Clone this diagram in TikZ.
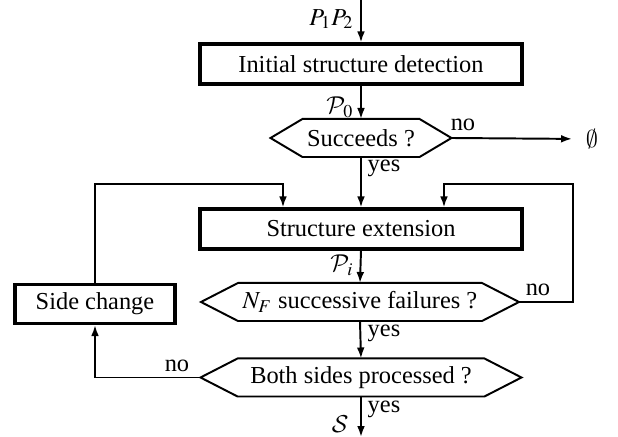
\documentclass[tikz,border=0pt]{standalone}
\usepackage{mathptmx}
\DeclareMathAlphabet{\mathcal}{OMS}{cmsy}{m}{n}
\DeclareSymbolFont{cmsyfont}{OMS}{cmsy}{m}{n}
\DeclareMathSymbol{\cmempty}{\mathord}{cmsyfont}{"3B}
\usepackage{fontspec}
\setmainfont{Liberation Serif}
\usetikzlibrary{calc,arrows.meta}
\begin{document}
\begin{tikzpicture}[x=0.41pt,y=-0.41pt,
  box/.style={draw,line width=1.3pt,minimum width=132pt,minimum height=16.4pt,inner sep=0pt,font=\fontsize{10}{12}\selectfont},
  hexn/.style={inner sep=0pt,minimum height=15.2pt,font=\fontsize{10}{12}\selectfont},
  hexline/.style={line width=0.8pt,line join=miter},
  conn/.style={line width=0.8pt,-{Latex[length=4.5pt,width=3.2pt]}},
  lbl/.style={inner sep=0pt,font=\fontsize{10}{12}\selectfont}]
\useasboundingbox (0,0) rectangle (618,437);
% nodes
\coordinate (top) at (361,0);
\node[box] (b1) at (361,64) {Initial structure detection};
\node[hexn,minimum width=73.8pt] (d1) at (361,138) {Succeeds ?};
\node[lbl] (empty) at (592,139) {$\cmempty$};
\node[box] (b2) at (361,229) {Structure extension};
\node[hexn,minimum width=130pt] (d2) at (360,302) {$N_F$ successive failures ?};
\node[hexn,minimum width=131.2pt] (d3) at (361,377.5) {Both sides processed ?};
\node[box,minimum width=65.6pt,minimum height=16pt] (side) at (95,304) {Side change};
\coordinate (bot) at (361,437);
\coordinate (rt) at (573,184);
\coordinate (rb) at (573,302);
\coordinate (lt) at (95,184);
\coordinate (lb) at (95,377.5);
\coordinate (inL) at (283,184);
\coordinate (inR) at (444,184);
% hexagons
\foreach \n/\s in {d1/13.1pt,d2/15.2pt,d3/15.2pt}{
  \draw[hexline] (\n.west) -- ([xshift=\s]\n.north west) -- ([xshift=-\s]\n.north east) -- (\n.east)
    -- ([xshift=-\s]\n.south east) -- ([xshift=\s]\n.south west) -- cycle;
}
% connectors
\draw[conn] (top) -- (b1.north);
\draw[conn] (b1.south) -- (d1.north);
\draw[conn,shorten >=5.5pt] (d1.east) -- (empty.west);
\draw[conn] (d1.south) -- (b2.north);
\draw[conn] (b2.south) -- (d2.north);
\draw[conn] (d2.east) -- (rb) -- (rt) -- (inR) -- (inR |- b2.north);
\draw[conn] (d2.south) -- (d3.north);
\draw[conn] (d3.west) -- (lb) -- (side.south);
\draw[conn] (side.north) -- (lt) -- (inL) -- (inL |- b2.north);
\draw[conn] (d3.south) -- (bot);
% labels
\node[lbl,anchor=east] at (354,19) {$P_1P_2$};
\node[lbl,anchor=east] at (354,107) {$\mathcal{P}_0$};
\node[lbl] at (463,125) {no};
\node[lbl] at (384,168) {yes};
\node[lbl,anchor=east] at (354,265) {$\mathcal{P}_i$};
\node[lbl] at (538,290) {no};
\node[lbl] at (384,333) {yes};
\node[lbl] at (177,366) {no};
\node[lbl] at (384,409) {yes};
\node[lbl,anchor=east] at (349,424) {$\mathcal{S}$};
\end{tikzpicture}
\end{document}
